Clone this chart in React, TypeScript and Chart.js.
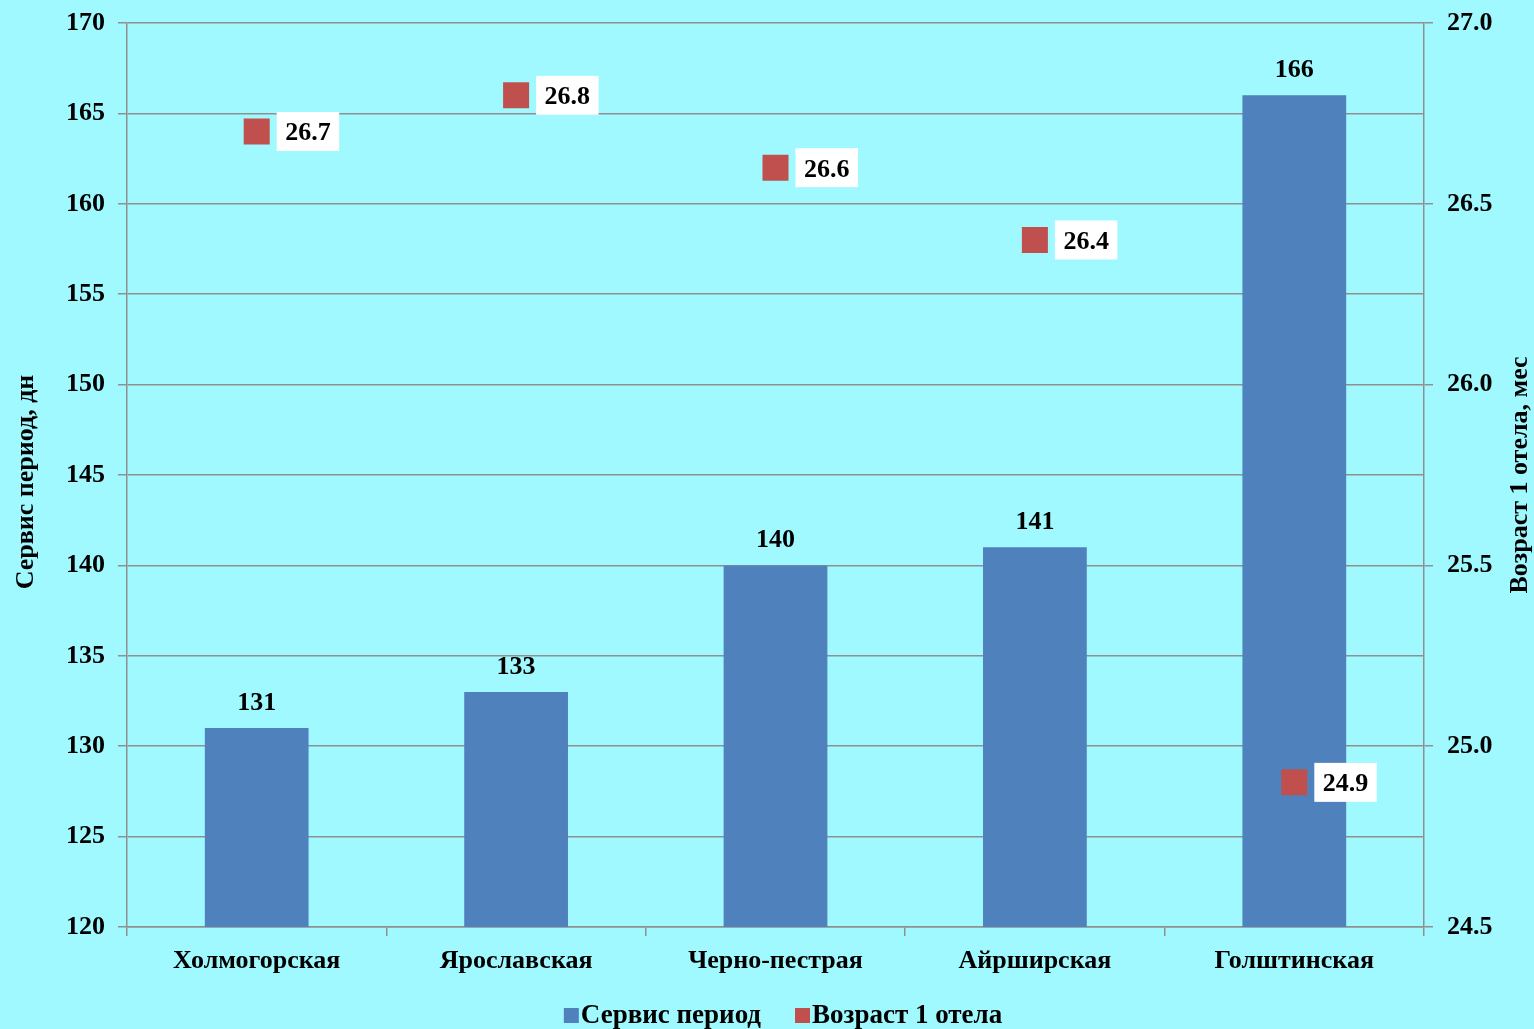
import React, { useEffect, useRef } from "react";
import { Chart, registerables } from "chart.js";

Chart.register(...registerables);

const breeds = ["Холмогорская", "Ярославская", "Черно-пестрая", "Айрширская", "Голштинская"];
const serviceDays = [131, 133, 140, 141, 166];
const firstCalvingAge = [26.7, 26.8, 26.6, 26.4, 24.9];
const leftTicks = { min: 120, max: 170, step: 5 };
const rightTicks = { min: 24.5, max: 27.0, step: 0.5 };
const serviceLabel = "Сервис период";
const ageLabel = "Возраст 1 отела";
const leftTitle = "Сервис период, дн";
const rightTitle = "Возраст 1 отела, мес";

const BG = "#A0F9FF";
const BLUE = "#4F81BD";
const RED = "#C0504D";
const GRID = "#909090";
const FONT = "'Liberation Serif', 'Times New Roman', serif";
const FS = 26;

const W = 1534;
const H = 1029;

const bgPlugin = {
  id: "bg",
  beforeDraw(chart: any) {
    const ctx = chart.ctx;
    ctx.save();
    ctx.fillStyle = BG;
    ctx.fillRect(0, 0, chart.width, chart.height);
    ctx.restore();
  },
};

const labelsPlugin = {
  id: "labelsPlugin",
  afterDatasetsDraw(chart: any) {
    const ctx = chart.ctx;
    ctx.save();
    ctx.font = `bold ${FS}px ${FONT}`;
    ctx.fillStyle = "#000";
    ctx.textAlign = "center";
    ctx.textBaseline = "alphabetic";
    const bars = chart.getDatasetMeta(0).data;
    bars.forEach((bar: any, i: number) => {
      ctx.fillText(String(serviceDays[i]), bar.x, bar.y - 18);
    });
    const pts = chart.getDatasetMeta(1).data;
    pts.forEach((pt: any, i: number) => {
      const t = firstCalvingAge[i].toFixed(1);
      const w = ctx.measureText(t).width;
      const bw = w + 17;
      const bh = 39;
      const left = pt.x + 20;
      ctx.fillStyle = "#FFFFFF";
      ctx.fillRect(left, pt.y - bh / 2, bw, bh);
      ctx.fillStyle = "#000";
      ctx.fillText(t, left + bw / 2, pt.y + 9);
    });
    ctx.restore();
  },
};

const titlesLegendPlugin = {
  id: "titlesLegend",
  afterDraw(chart: any) {
    const ctx = chart.ctx;
    const area = chart.chartArea;
    const cy = (area.top + area.bottom) / 2;
    ctx.save();
    ctx.font = `bold ${FS}px ${FONT}`;
    ctx.fillStyle = "#000";
    ctx.textAlign = "center";
    ctx.textBaseline = "alphabetic";
    // left title
    ctx.save();
    ctx.translate(33, cy + 7);
    ctx.rotate(-Math.PI / 2);
    ctx.fillText(leftTitle, 0, 0);
    ctx.restore();
    // right title
    ctx.save();
    ctx.translate(1527, cy);
    ctx.rotate(-Math.PI / 2);
    ctx.fillText(rightTitle, 0, 0);
    ctx.restore();
    // legend
    ctx.font = `bold ${FS + 1}px ${FONT}`;
    const items = chart.data.datasets.map((d: any) => ({
      text: d.label,
      color: d.type === "line" ? d.pointBackgroundColor : d.backgroundColor,
    }));
    const box = 15;
    const gap = 2;
    const spacing = 34;
    const widths = items.map((it: any) => box + gap + ctx.measureText(it.text).width);
    const total = widths.reduce((a: number, b: number) => a + b, 0) + spacing * (items.length - 1);
    let x = 783 - total / 2;
    const baseline = 1023;
    ctx.textAlign = "left";
    items.forEach((it: any, i: number) => {
      ctx.fillStyle = it.color;
      ctx.fillRect(x, baseline - 15, box, box);
      ctx.fillStyle = "#000";
      ctx.fillText(it.text, x + box + gap, baseline);
      x += widths[i] + spacing;
    });
    ctx.restore();
  },
};

export default function App() {
  const ref = useRef<HTMLCanvasElement | null>(null);
  useEffect(() => {
    document.body.style.margin = "0";
    document.body.style.background = BG;
    if (!ref.current) return;
    Chart.defaults.font.family = FONT;
    const chart = new Chart(ref.current, {
      type: "bar",
      data: {
        labels: breeds,
        datasets: [
          {
            type: "bar",
            label: serviceLabel,
            data: serviceDays,
            backgroundColor: BLUE,
            borderWidth: 0,
            barPercentage: 0.4,
            categoryPercentage: 1,
            yAxisID: "y",
            order: 2,
          } as any,
          {
            type: "line",
            label: ageLabel,
            data: firstCalvingAge,
            showLine: false,
            pointStyle: "rect",
            pointRadius: 18.4,
            pointHoverRadius: 18.4,
            pointBackgroundColor: RED,
            pointBorderColor: RED,
            pointBorderWidth: 0,
            backgroundColor: RED,
            borderColor: RED,
            yAxisID: "y1",
            order: 1,
          } as any,
        ],
      },
      plugins: [bgPlugin, labelsPlugin, titlesLegendPlugin],
      options: {
        responsive: false,
        animation: false,
        events: [],
        layout: { padding: { top: 23, left: 0, right: 0, bottom: 0 } },
        plugins: {
          legend: { display: false },
          tooltip: { enabled: false },
        },
        scales: {
          x: {
            offset: true,
            grid: {
              offset: true,
              drawOnChartArea: false,
              drawTicks: true,
              tickLength: 9,
              color: GRID,
              lineWidth: 1.5,
            },
            border: { color: GRID, width: 1.5 },
            ticks: {
              color: "#000",
              font: { size: FS, weight: "bold", family: FONT },
              padding: 10,
              maxRotation: 0,
              autoSkip: false,
            },
            afterFit: (s: any) => {
              s.height = 102;
              s.paddingLeft = 0;
              s.paddingRight = 0;
            },
          },
          y: {
            position: "left",
            min: leftTicks.min,
            max: leftTicks.max,
            grid: { color: GRID, lineWidth: 1.5, tickLength: 9 },
            border: { color: GRID, width: 1.5 },
            ticks: {
              stepSize: leftTicks.step,
              color: "#000",
              font: { size: FS, weight: "bold", family: FONT },
              padding: 13,
            },
            afterFit: (s: any) => {
              s.width = 127;
              s.paddingTop = 0;
              s.paddingBottom = 0;
            },
          },
          y1: {
            position: "right",
            min: rightTicks.min,
            max: rightTicks.max,
            grid: { drawOnChartArea: false, color: GRID, lineWidth: 1.5, tickLength: 9 },
            border: { color: GRID, width: 1.5 },
            ticks: {
              stepSize: rightTicks.step,
              color: "#000",
              font: { size: FS, weight: "bold", family: FONT },
              padding: 14,
              callback: (v: any) => Number(v).toFixed(1),
            },
            afterFit: (s: any) => {
              s.width = 110;
              s.paddingTop = 0;
              s.paddingBottom = 0;
            },
          },
        },
      } as any,
    });
    return () => chart.destroy();
  }, []);
  return (
    <div style={{ position: "fixed", left: 0, top: 0, width: W, height: H, background: BG }}>
      <canvas ref={ref} width={W} height={H} style={{ display: "block" }} />
    </div>
  );
}
